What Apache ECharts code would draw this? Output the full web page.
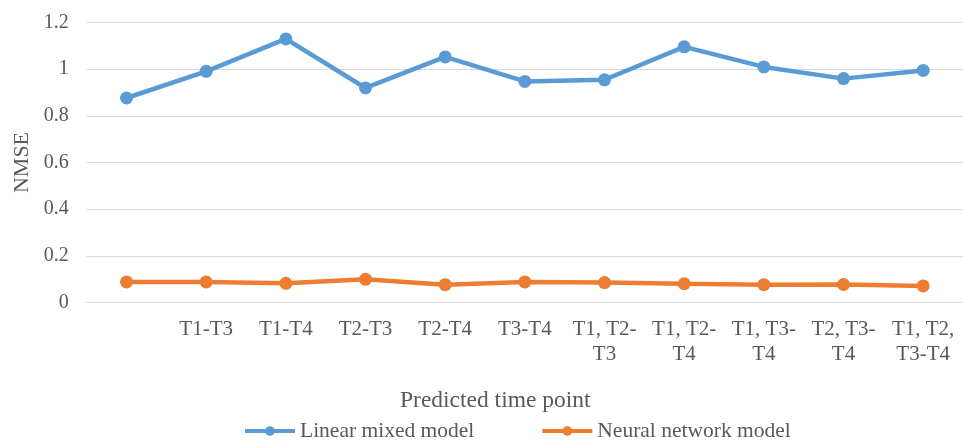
<!DOCTYPE html>
<html>
<head>
<meta charset="utf-8">
<script src="https://cdn.jsdelivr.net/npm/echarts@6/dist/echarts.min.js"></script>
<style>
  html, body { margin: 0; padding: 0; background: #fff; }
  #chart { width: 963px; height: 441px; }
</style>
</head>
<body>
<div id="chart"></div>
<script>
// Prediction windows (the first window has no label on the axis)
const categories = ['', 'T1-T3', 'T1-T4', 'T2-T3', 'T2-T4', 'T3-T4',
  'T1, T2-\nT3', 'T1, T2-\nT4', 'T1, T3-\nT4', 'T2, T3-\nT4', 'T1, T2,\nT3-T4'];

// NMSE per prediction window
const linearMixed = [0.876, 0.990, 1.129, 0.919, 1.052, 0.947, 0.954, 1.095, 1.009, 0.959, 0.994];
const neuralNetwork = [0.089, 0.089, 0.083, 0.100, 0.077, 0.089, 0.086, 0.081, 0.077, 0.078, 0.072];

const yTicks = { min: 0, max: 1.2, interval: 0.2 };

const FONT = '"Liberation Serif", "Times New Roman", serif';
const TEXT = '#595959';
const GRID = '#D9D9D9';

const chart = echarts.init(document.getElementById('chart'), null, { renderer: 'canvas' });

function lineSeries(name, data, color) {
  return {
    name: name,
    type: 'line',
    data: data,
    symbol: 'circle',
    symbolSize: 13,
    lineStyle: { color: color, width: 4.5 },
    itemStyle: { color: color },
    emphasis: { disabled: true },
    animation: false
  };
}

chart.setOption({
  animation: false,
  textStyle: { fontFamily: FONT },
  grid: { left: 86.7, top: 22.3, width: 880, height: 280.4, containLabel: false },
  title: {
    text: 'Predicted time point',
    left: 400,
    top: 389,
    padding: 0,
    textStyle: { fontFamily: FONT, fontSize: 23.5, fontWeight: 'normal', color: TEXT, lineHeight: 24 }
  },
  legend: {
    left: 243,
    top: 420,
    padding: 0,
    itemWidth: 50,
    itemHeight: 12,
    itemGap: 66,
    lineStyle: { width: 4 },
    textStyle: { fontFamily: FONT, fontSize: 21.5, color: TEXT, lineHeight: 22 },
    data: ['Linear mixed model', 'Neural network model']
  },
  xAxis: {
    type: 'category',
    data: categories,
    boundaryGap: true,
    axisLine: { show: true, lineStyle: { color: GRID, width: 1 } },
    axisTick: { show: false },
    axisLabel: {
      interval: 0,
      margin: 14,
      color: TEXT,
      fontFamily: FONT,
      fontSize: 21,
      lineHeight: 25,
      align: 'center'
    },
    splitLine: { show: false }
  },
  yAxis: {
    type: 'value',
    min: yTicks.min,
    max: yTicks.max,
    interval: yTicks.interval,
    name: 'NMSE',
    nameLocation: 'middle',
    nameGap: 53,
    nameRotate: 90,
    nameTextStyle: { fontFamily: FONT, fontSize: 22, color: TEXT },
    axisLine: { show: false },
    axisTick: { show: false },
    axisLabel: {
      margin: 18,
      color: TEXT,
      fontFamily: FONT,
      fontSize: 20,
      formatter: function (v) { return String(Math.round(v * 10) / 10); }
    },
    splitLine: { show: true, lineStyle: { color: GRID, width: 1 } }
  },
  series: [
    lineSeries('Linear mixed model', linearMixed, '#5B9BD5'),
    lineSeries('Neural network model', neuralNetwork, '#ED7D31')
  ]
});
</script>
</body>
</html>
